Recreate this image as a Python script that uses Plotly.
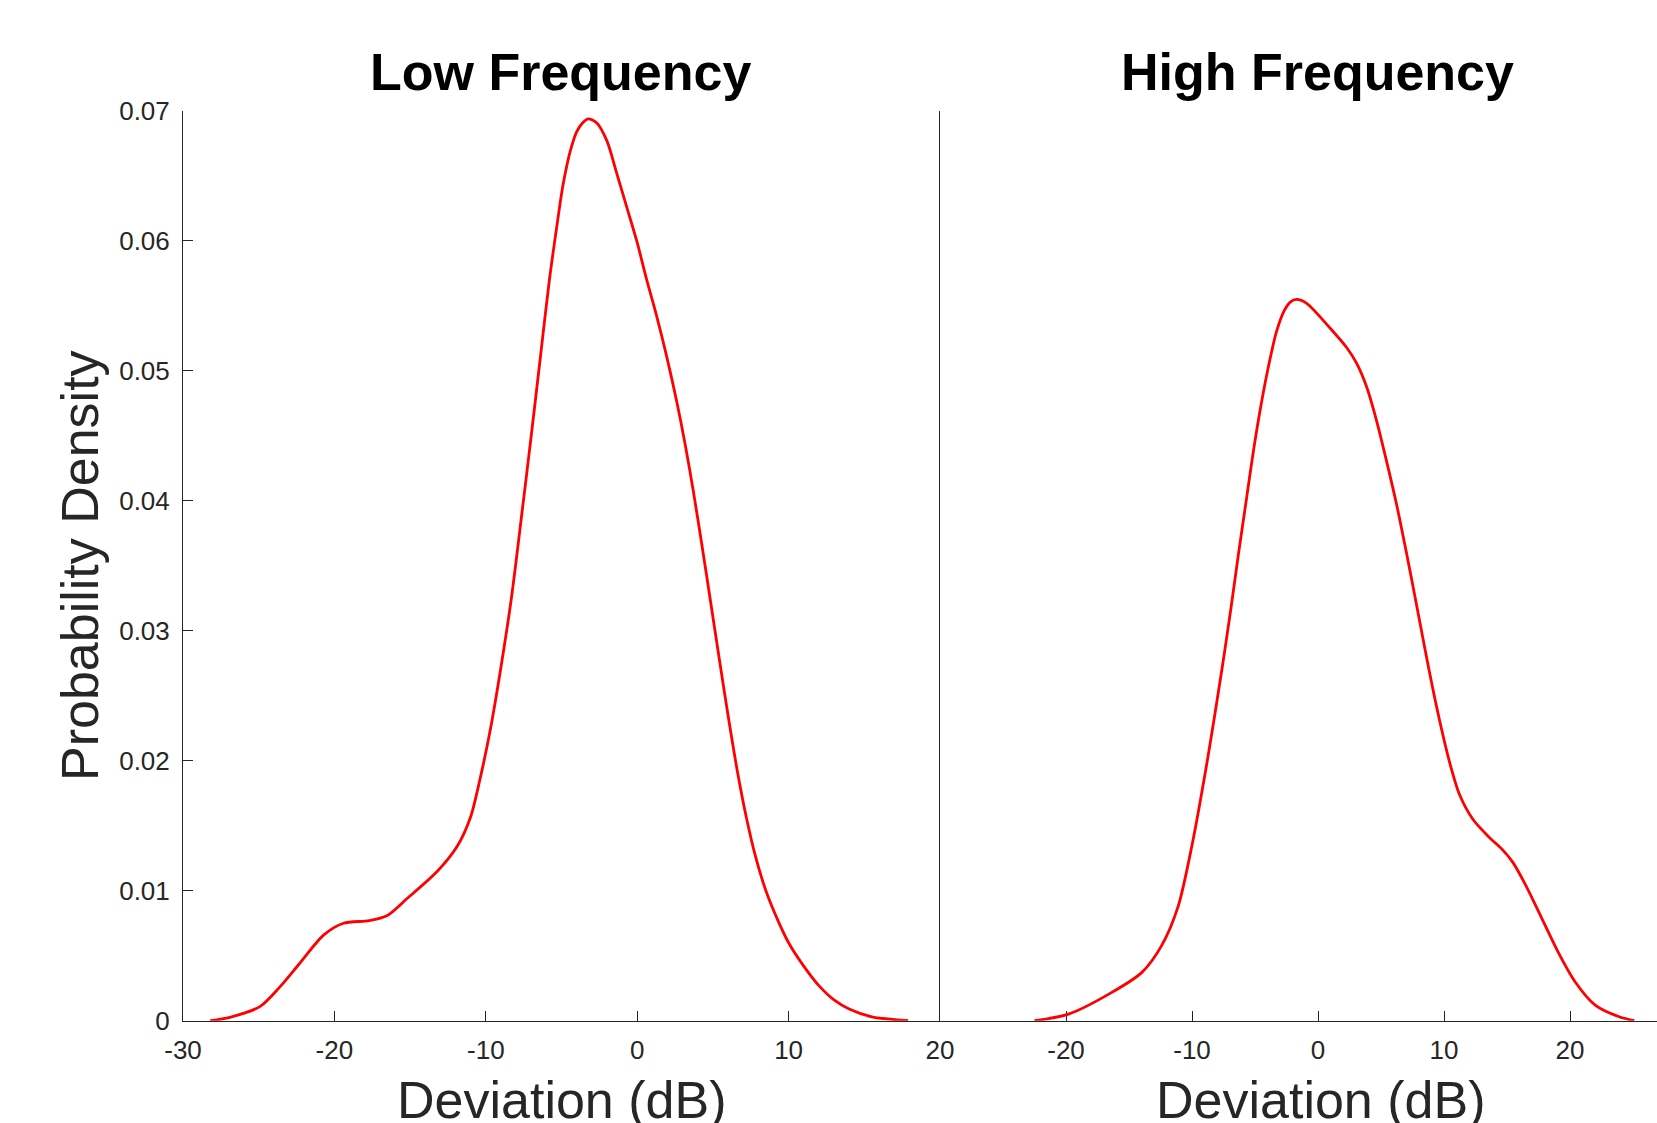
import plotly.graph_objects as go

# ---- data ----
low_x = [-28.2, -26.9, -24.9, -23.6, -22.3, -20.7, -19.4, -17.7, -16.5, -15.2, -13.2, -11.9,
         -11.0, -10.4, -9.7, -9.0, -8.3, -7.6, -7.0, -6.4, -5.8, -5.3, -4.9, -4.4,
         -4.0, -3.6, -3.23, -2.68, -2.0, -1.35, -0.69, -0.03, 0.63, 1.29, 1.95, 2.6, 3.16, 3.7, 4.26,
         4.8, 5.4, 6.0, 6.6, 7.2, 7.8, 8.5, 9.3, 10.0, 11.0, 12.0, 13.0, 14.0, 15.5, 17.9]
low_y = [0.0, 0.00026, 0.0011, 0.0026, 0.0044, 0.0066, 0.0075, 0.0077, 0.0081, 0.0094, 0.0115, 0.0134,
         0.0157, 0.0185, 0.0224, 0.0272, 0.0326, 0.0392, 0.0450, 0.0510, 0.0570, 0.0612, 0.0643, 0.0670,
         0.0684, 0.0691, 0.0694, 0.0691, 0.0677, 0.0652, 0.0626, 0.0600, 0.0570, 0.0542, 0.0511, 0.0477, 0.0444,
         0.0408, 0.0367, 0.0326, 0.0280, 0.0235, 0.0193, 0.0157, 0.0127, 0.0100, 0.0077, 0.0060, 0.0042, 0.0027,
         0.0016, 0.0009, 0.0003, 0.0]

high_x = [-22.5, -19.8, -16.5, -14.0, -12.4, -11.1, -10.0, -8.7, -7.6, -6.9, -6.3, -5.7, -5.1,
          -4.5, -3.9, -3.3, -2.7, -2.2, -1.7, -0.9, 0.95, 2.27, 3.06, 3.85, 4.64, 5.43, 6.22,
          7.02, 7.8, 8.47, 9.12, 9.79, 10.44, 11.23, 12.29, 13.6, 14.6, 15.45, 16.5, 17.8, 19.1, 20.4,
          22.0, 23.9, 25.1]
high_y = [0.0, 0.0005, 0.0021, 0.0037, 0.0058, 0.0088, 0.0135, 0.0205, 0.0272, 0.0318, 0.0360, 0.0400, 0.0440,
          0.0475, 0.0505, 0.0530, 0.0546, 0.0553, 0.0555, 0.0552, 0.0533, 0.0518, 0.0506, 0.0488, 0.0462, 0.0431, 0.0398,
          0.0360, 0.0321, 0.0287, 0.0255, 0.0225, 0.0199, 0.0174, 0.0155, 0.0141, 0.0132, 0.0122, 0.0104, 0.0078,
          0.0052, 0.0030, 0.0012, 0.0003, 0.0]

low_ticks = [-30, -20, -10, 0, 10, 20]
high_ticks = [-20, -10, 0, 10, 20]
y_ticks = [0, 0.01, 0.02, 0.03, 0.04, 0.05, 0.06, 0.07]
y_ticktext = ["0", "0.01", "0.02", "0.03", "0.04", "0.05", "0.06", "0.07"]

titles = ["Low Frequency", "High Frequency"]
x_label = "Deviation (dB)"
y_label = "Probability Density"

W, H = 1657, 1123
FONT = "Liberation Sans, Arial, sans-serif"
AX = "#262626"


def px(x):
    return x / W


def py(y):
    return 1 - y / H


def lbl(v):
    return str(v)  # plain hyphen minus, as in the reference


fig = go.Figure()
fig.add_trace(go.Scatter(x=low_x, y=low_y, mode="lines", xaxis="x", yaxis="y",
                         line=dict(color="#ff0000", width=2.8, shape="spline", smoothing=0.8),
                         showlegend=False))
fig.add_trace(go.Scatter(x=high_x, y=high_y, mode="lines", xaxis="x2", yaxis="y2",
                         line=dict(color="#ff0000", width=2.8, shape="spline", smoothing=0.8),
                         showlegend=False))

x_left, x_mid, x_right = 183, 940, W
y_top, y_bot = 111, 1020.7

common_x = dict(showgrid=False, zeroline=False, showline=True, linecolor=AX, linewidth=1,
                ticks="inside", ticklen=10, tickcolor=AX, tickwidth=1, automargin=False,
                ticklabelstandoff=6,
                tickfont=dict(family=FONT, size=26, color=AX), layer="below traces")

fig.update_layout(
    template="none",
    width=W, height=H, margin=dict(l=0, r=0, t=0, b=0, autoexpand=False),
    paper_bgcolor="white", plot_bgcolor="white",
    xaxis=dict(domain=[px(x_left), px(x_mid)], range=[-30, 20], tickvals=low_ticks,
               ticktext=[lbl(v) for v in low_ticks], anchor="y", **common_x),
    xaxis2=dict(domain=[px(x_mid), 1.0], range=[-30, (x_right - 1318) / 12.6], tickvals=high_ticks,
                ticktext=[lbl(v) for v in high_ticks], anchor="y2", **common_x),
    yaxis=dict(domain=[py(y_bot), py(y_top)], range=[0, 0.07], tickvals=y_ticks, ticktext=y_ticktext,
               showgrid=False, zeroline=False, showline=True, linecolor=AX, linewidth=1,
               ticks="inside", ticklen=10, tickcolor=AX, automargin=False, ticklabelstandoff=7,
               tickfont=dict(family=FONT, size=26, color=AX), anchor="x", layer="below traces"),
    yaxis2=dict(domain=[py(y_bot), py(y_top)], range=[0, 0.07], showticklabels=False,
                showgrid=False, zeroline=False, showline=True, linecolor=AX, linewidth=1,
                ticks="", anchor="x2", automargin=False, layer="below traces"),
)

ann = []
for cx, t in zip([560, 1317], titles):
    ann.append(dict(text=t, x=px(cx), y=py(72), xref="paper", yref="paper",
                    xanchor="center", yanchor="middle", showarrow=False,
                    font=dict(family=FONT, size=52, color="black", weight="bold")))
for cx in [561.5, 1320]:
    ann.append(dict(text=x_label, x=px(cx), y=py(1100), xref="paper", yref="paper",
                    xanchor="center", yanchor="middle", showarrow=False,
                    font=dict(family=FONT, size=52, color=AX)))
ann.append(dict(text=y_label, x=px(80), y=py(566), xref="paper", yref="paper",
                xanchor="center", yanchor="middle", showarrow=False, textangle=-90,
                font=dict(family=FONT, size=52, color=AX)))
fig.update_layout(annotations=ann)

fig.write_html("out.html")
